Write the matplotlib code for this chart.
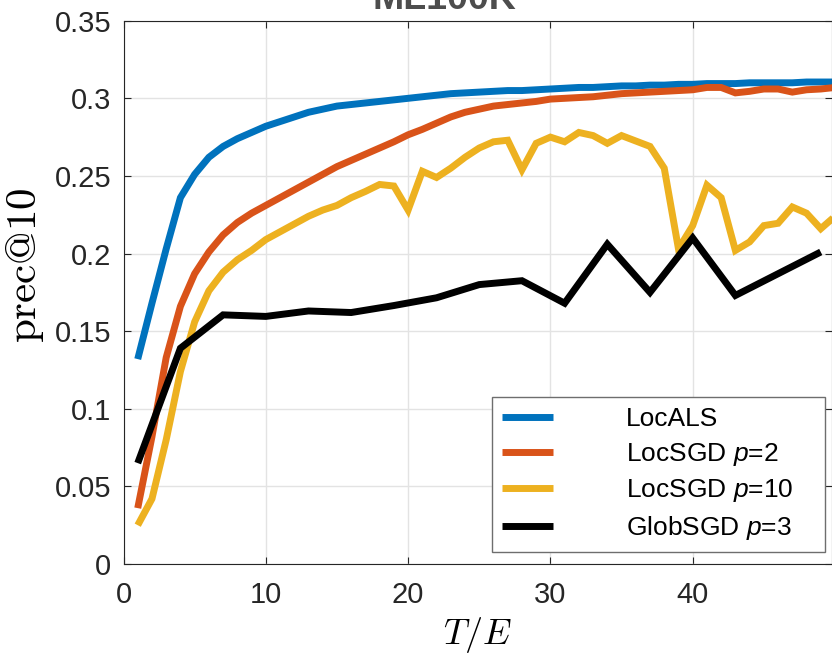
import numpy as np
import matplotlib
matplotlib.use("Agg")
import matplotlib.pyplot as plt
from matplotlib.font_manager import FontProperties

# data (epochs T/E)
epochs = np.arange(1, 51)
loc_als = [0.132, 0.168, 0.203, 0.236, 0.251, 0.262, 0.269, 0.274, 0.278, 0.282,
           0.285, 0.288, 0.291, 0.293, 0.295, 0.296, 0.297, 0.298, 0.299, 0.300,
           0.301, 0.302, 0.303, 0.3035, 0.304, 0.3045, 0.305, 0.305, 0.3055, 0.306,
           0.3065, 0.307, 0.307, 0.3075, 0.308, 0.308, 0.3085, 0.3085, 0.309, 0.309,
           0.3095, 0.3095, 0.3095, 0.310, 0.310, 0.310, 0.310, 0.3105, 0.3105, 0.3105]
loc_sgd_p2 = [0.036, 0.082, 0.133, 0.166, 0.187, 0.201, 0.212, 0.220, 0.226, 0.231,
              0.236, 0.241, 0.246, 0.251, 0.256, 0.260, 0.264, 0.268, 0.272, 0.2765,
              0.280, 0.284, 0.288, 0.291, 0.293, 0.295, 0.296, 0.297, 0.298, 0.2995,
              0.300, 0.3005, 0.301, 0.302, 0.303, 0.3035, 0.304, 0.3045, 0.305, 0.3055,
              0.307, 0.307, 0.3035, 0.3045, 0.306, 0.306, 0.304, 0.3055, 0.306, 0.307]
loc_sgd_p10 = [0.025, 0.042, 0.080, 0.124, 0.156, 0.176, 0.188, 0.196, 0.202, 0.209,
               0.214, 0.219, 0.224, 0.228, 0.231, 0.236, 0.240, 0.2445, 0.2435, 0.228,
               0.253, 0.249, 0.255, 0.262, 0.268, 0.272, 0.273, 0.254, 0.271, 0.275,
               0.272, 0.278, 0.276, 0.271, 0.276, 0.2725, 0.269, 0.255, 0.203, 0.218,
               0.244, 0.236, 0.202, 0.2075, 0.218, 0.2195, 0.230, 0.226, 0.216, 0.224]
glob_epochs = np.arange(1, 50, 3)
glob_sgd_p3 = [0.065, 0.139, 0.1605, 0.1595, 0.163, 0.162, 0.1665, 0.1715, 0.180,
               0.1825, 0.168, 0.206, 0.175, 0.210, 0.173, 0.187, 0.201]

labels = ['LocALS', 'LocSGD $p$=2', 'LocSGD $p$=10', 'GlobSGD $p$=3']
colours = ['#0072BD', '#D95319', '#EDB120', '#000000']
y_ticks = [0, 0.05, 0.1, 0.15, 0.2, 0.25, 0.3, 0.35]
y_tick_labels = ['0', '0.05', '0.1', '0.15', '0.2', '0.25', '0.3', '0.35']
x_ticks = [0, 10, 20, 30, 40]

plt.rcParams.update({
    'font.family': 'Liberation Sans',
    'mathtext.fontset': 'custom',
    'mathtext.rm': 'Liberation Sans',
    'mathtext.it': 'Liberation Sans:italic',
})

W, H = 832, 654
fig = plt.figure(figsize=(W / 100, H / 100), dpi=100)
# axes box placed in pixels to match the (cropped) reference
left, right, bottom, top = 123.5, 832, 564, 20.7
ax = fig.add_axes([left / W, (H - bottom) / H, (right - left) / W, (bottom - top) / H])

series = [(epochs, loc_als), (epochs, loc_sgd_p2), (epochs, loc_sgd_p10), (glob_epochs, glob_sgd_p3)]
for (xs, ys), c, lab in zip(series, colours, labels):
    ax.plot(xs, ys, color=c, lw=5, label=lab, solid_joinstyle='miter', solid_capstyle='butt')

ax.set_xlim(0, (right - left) / 14.23)
ax.set_ylim(0, 0.35)
ax.set_xticks(x_ticks)
ax.set_yticks(y_ticks)
ax.set_yticklabels(y_tick_labels)
ax.grid(True, color='#e3e3e3', lw=1)
ax.set_axisbelow(True)
ax.tick_params(direction='in', length=5, width=0.8, colors='#262626', labelsize=21,
               top=True, right=True, pad=9)
ax.tick_params(axis='x', pad=12)
for s in ax.spines.values():
    s.set_color('#262626')
    s.set_linewidth(0.8)

ax.set_xlabel(r'$T/E$', fontsize=26, math_fontfamily='cm', labelpad=0)
ax.xaxis.set_label_coords(0.50, -0.094)
ax.set_ylabel(r'$\mathrm{prec@10}$', fontsize=31, math_fontfamily='cm')
ax.yaxis.set_label_coords(-0.11, 0.55)

fig.text(444 / W, 1 - 9.3 / H, 'ML100K', ha='center', va='baseline',
         fontsize=27, fontweight='bold', color='#4d4d4d')

leg = ax.legend(loc='lower left', mode='expand',
                bbox_to_anchor=(492 / W, (H - 552) / H, (825 - 492) / W, (552 - 401) / H),
                bbox_transform=fig.transFigure, borderaxespad=0,
                prop=FontProperties(family='Liberation Sans', size=19),
                handlelength=1.95, handletextpad=2.75, borderpad=0.38,
                labelspacing=0.36, fancybox=False, framealpha=1)
leg.get_frame().set_edgecolor('#6e6e6e')
leg.get_frame().set_linewidth(1)

fig.savefig('out.png', dpi=100)
